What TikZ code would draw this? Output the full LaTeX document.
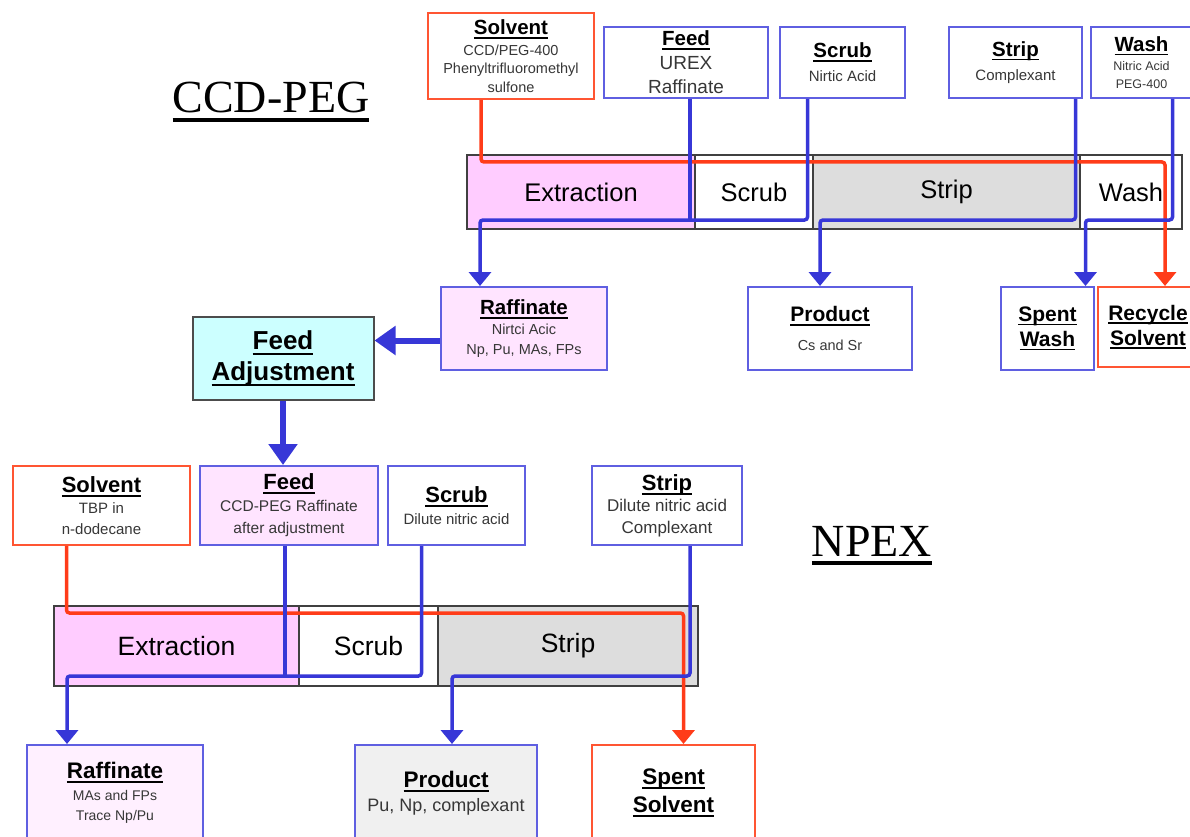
\documentclass[tikz,border=0pt]{standalone}
\usepackage{fontspec}
\setmainfont{Liberation Sans}
\newfontfamily\romfont{Liberation Serif}
\usetikzlibrary{calc,arrows.meta}
\definecolor{flowblue}{RGB}{55,55,215}
\definecolor{flowred}{RGB}{255,60,25}
\definecolor{boxblue}{RGB}{95,95,225}
\definecolor{boxred}{RGB}{255,85,50}
\definecolor{pinkx}{RGB}{255,204,255}
\definecolor{pinky}{RGB}{255,228,255}
\definecolor{pinkz}{RGB}{255,240,255}
\definecolor{stripgrey}{RGB}{221,221,221}
\definecolor{prodgrey}{RGB}{240,240,240}
\definecolor{adjcyan}{RGB}{204,255,255}
\definecolor{subgrey}{RGB}{55,55,55}
\newcommand{\ulbar}[1]{\setbox0\hbox{#1}\rlap{\rule[-0.2em]{\wd0}{0.09em}}\box0}
\newcommand{\hd}[1]{{\bfseries\ulbar{#1}}}
\newcommand{\fs}[2]{\fontsize{#1}{#2}\selectfont}
\newcommand{\subt}[1]{\fontsize{#1}{#1}\selectfont\color{subgrey}}

\begin{document}
\begin{tikzpicture}[x=1pt,y=-1pt,
    bbox/.style={draw=boxblue,fill=white,line width=2pt,align=center,inner sep=0pt,font=\fs{20.5}{24}},
    rbox/.style={draw=boxred,fill=white,line width=2pt,align=center,inner sep=0pt,font=\fs{20.5}{24}},
    stage/.style={draw=black!75,line width=2.2pt,inner sep=0pt},
    ttl/.style={anchor=base,font=\romfont\fs{46}{50}},
    bflow/.style={flowblue,line width=3.5pt,rounded corners=3pt},
    rflow/.style={flowred,line width=3.5pt,rounded corners=3pt},
    tip/.style={-{Triangle[width=22pt,length=14pt]}},
    bigtip/.style={flowblue,line width=6pt,-{Triangle[width=28pt,length=21pt]}}]
  \useasboundingbox (0,0) rectangle (1190,837);

  % CCD-PEG
  \node[ttl] (ttlA) at (271,113) {\ulbar{CCD-PEG}};
  \node[rbox,minimum width=166,minimum height=86,font=\fs{20.5}{18.5}] (solA) at (511,56)
    {\hd{Solvent}\\[2pt] \subt{14.5}CCD/PEG-400\\ \subt{14.5}Phenyltrifluoromethyl\\ \subt{14.5}sulfone};
  \node[bbox,minimum width=164,minimum height=71] (feedA) at (686,62.5)
    {\hd{Feed}\\ \subt{19}UREX\\ \subt{19}Raffinate};
  \node[bbox,minimum width=125,minimum height=71] (scrubA) at (842.5,62.5)
    {\hd{Scrub}\\ \subt{15}Nirtic Acid};
  \node[bbox,minimum width=133,minimum height=71] (stripA) at (1015.5,62.5)
    {\hd{Strip}\\ \subt{15}Complexant};
  \node[bbox,minimum width=101,minimum height=71,font=\fs{20.5}{18}] (washA) at (1141.5,62.5)
    {\hd{Wash}\\[1pt] \subt{12.5}Nitric Acid\\ \subt{12.5}PEG-400};

  \node[stage,fill=pinkx,minimum width=228,minimum height=74,font=\fs{25.5}{30}] (extrA) at (581,192) {Extraction};
  \node[stage,fill=white,minimum width=118,minimum height=74,font=\fs{25.5}{30}] (scrA) at (754,192) {Scrub};
  \node[stage,fill=stripgrey,minimum width=267,minimum height=74,font=\fs{25.5}{30}] (strA) at (946.5,192) {Strip};
  \node[stage,fill=white,minimum width=102,minimum height=74,font=\fs{25.5}{30}] (wasA) at (1131,192) {Wash};

  \node[bbox,fill=pinky,minimum width=166,minimum height=83,font=\fs{20.5}{20}] (raffA) at (524,328.5)
    {\hd{Raffinate}\\ \subt{14.5}Nirtci Acic\\ \subt{14.5}Np, Pu, MAs, FPs};
  \node[bbox,minimum width=164,minimum height=83,font=\fs{21}{29}] (prodA) at (830,328.5)
    {\hd{Product}\\ \subt{14.5}Cs and Sr};
  \node[bbox,minimum width=93,minimum height=83,font=\fs{21}{25}] (swA) at (1047.5,328.5)
    {\hd{Spent}\\\hd{Wash}};
  \node[rbox,minimum width=100,minimum height=80,font=\fs{21}{25}] (recA) at (1148,327)
    {\hd{Recycle}\\\hd{Solvent}};
  \node[draw=black!70,fill=adjcyan,line width=2pt,align=center,minimum width=181,minimum height=83,
    font=\fs{26}{31}] (fadj) at (283,358.5) {\hd{Feed}\\\hd{Adjustment}};

  % NPEX
  \node[ttl] (ttlB) at (872,556) {\ulbar{NPEX}};
  \node[rbox,minimum width=177,minimum height=79,font=\fs{22}{21}] (solB) at (101.5,505.5)
    {\hd{Solvent}\\ \subt{15}TBP in\\ \subt{15}n-dodecane};
  \node[bbox,fill=pinky,minimum width=178,minimum height=79,font=\fs{22}{22}] (feedB) at (289,505.5)
    {\hd{Feed}\\ \subt{15.5}CCD-PEG Raffinate\\ \subt{15.5}after adjustment};
  \node[bbox,minimum width=137,minimum height=79,font=\fs{22}{22}] (scrubB) at (456.5,505.5)
    {\hd{Scrub}\\ \subt{15}Dilute nitric acid};
  \node[bbox,minimum width=150,minimum height=79,font=\fs{22}{21.5}] (stripB) at (667,505.5)
    {\hd{Strip}\\ \subt{17}Dilute nitric acid\\ \subt{17}Complexant};

  \node[stage,fill=pinkx,minimum width=245,minimum height=80,font=\fs{26.5}{30}] (extrB) at (176.5,646) {Extraction};
  \node[stage,fill=white,minimum width=139,minimum height=80,font=\fs{26.5}{30}] (scrB) at (368.5,646) {Scrub};
  \node[stage,fill=stripgrey,minimum width=260,minimum height=80,font=\fs{26.5}{30}] (strB) at (568,646) {Strip};

  \node[bbox,fill=pinkz,minimum width=176,minimum height=96,font=\fs{22.5}{20}] (raffB) at (115,793)
    {\hd{Raffinate}\\[2pt] \subt{14}MAs and FPs\\ \subt{14}Trace Np/Pu};
  \node[bbox,fill=prodgrey,minimum width=182,minimum height=96,font=\fs{22.5}{24}] (prodB) at (446,793)
    {\hd{Product}\\ \subt{18}Pu, Np, complexant};
  \node[rbox,minimum width=163,minimum height=96,font=\fs{22.5}{28}] (spentB) at (673.5,793)
    {\hd{Spent}\\\hd{Solvent}};

  % CCD-PEG streams
  \draw[rflow,tip] ($(solA.south)+(-30,0)$) |- ($(recA.north)+(17,-124)$) -- ($(recA.north)+(17,0)$);
  \draw[bflow,tip] ($(scrubA.south)+(-35,0)$) |- ($(raffA.north)+(-44,-66)$) -- ($(raffA.north)+(-44,0)$);
  \draw[bflow] ($(feedA.south)+(4,0)$) -- ++(0,123);
  \draw[bflow,tip] ($(stripA.south)+(60,0)$) |- ($(prodA.north)+(-10,-66)$) -- ($(prodA.north)+(-10,0)$);
  \draw[bflow,tip] ($(washA.south)+(31,0)$) |- ($(swA.north)+(38,-66)$) -- ($(swA.north)+(38,0)$);

  \coordinate (rw) at ($(raffA.west)+(0,12)$);
  \draw[bigtip] (rw) -- (rw -| fadj.east);
  \draw[bigtip] (fadj.south) -- (fadj.south |- feedB.north);

  % NPEX streams
  \draw[rflow,tip] ($(solB.south)+(-35,0)$) |- ($(spentB.north)+(10,-131)$) -- ($(spentB.north)+(10,0)$);
  \draw[bflow,tip] ($(scrubB.south)+(-35,0)$) |- ($(raffB.north)+(-48,-68)$) -- ($(raffB.north)+(-48,0)$);
  \draw[bflow] ($(feedB.south)+(-4,0)$) -- ++(0,132);
  \draw[bflow,tip] ($(stripB.south)+(23,0)$) |- ($(prodB.north)+(6,-68)$) -- ($(prodB.north)+(6,0)$);
\end{tikzpicture}
\end{document}
